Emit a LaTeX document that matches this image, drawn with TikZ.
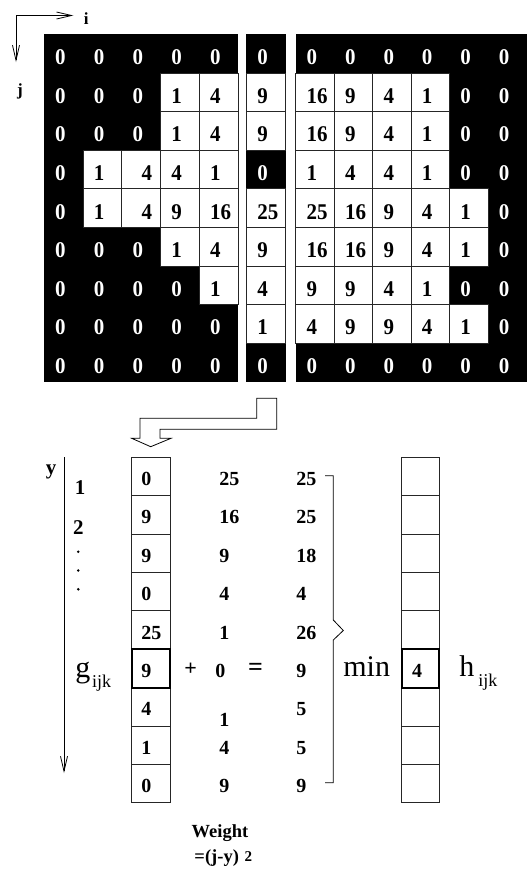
\documentclass[tikz,border=0pt]{standalone}
\usepackage{fontspec}
\setmainfont{Liberation Serif}
\usetikzlibrary{arrows.meta}
\newcommand{\tallnum}[1]{\scalebox{1}[1.07]{#1}}
\begin{document}
\begin{tikzpicture}[x=1pt,y=-1pt,
  line width=0.8pt,
  wcell/.style={draw=black!85, line width=0.8pt, fill=white},
  cellw/.style={wcell}, cellx/.style={wcell}, cellb/.style={},
  numw/.style={anchor=west, inner sep=0pt, font=\fontsize{21}{21}\selectfont\bfseries, text=black},
  numx/.style={numw, xshift=9pt},
  numb/.style={numw, text=white},
  bnum/.style={anchor=west, inner sep=0pt, font=\fontsize{20}{20}\selectfont\bfseries},
  bsym/.style={inner sep=0pt, font=\fontsize{22}{22}\selectfont\bfseries},
  lbl/.style={inner sep=0pt, font=\fontsize{21}{21}\selectfont\bfseries},
  axlbl/.style={inner sep=0pt, font=\fontsize{17}{17}\selectfont\bfseries},
  big/.style={inner sep=0pt, font=\fontsize{30}{30}\selectfont},
  sub/.style={inner sep=0pt, font=\fontsize{18}{18}\selectfont},
  wt/.style={inner sep=0pt, font=\fontsize{18.5}{18.5}\selectfont\bfseries},
  barb/.style={-{Straight Barb[length=15pt,width=7pt]}},
  thick cell/.style={draw=black, line width=2pt}
]
\useasboundingbox (0,0) rectangle (527,873);

% ---------- axes i, j ----------
\coordinate (o) at (16,15.5);
\coordinate (ie) at (73.3,15.5);
\coordinate (je) at (16,62);
\draw[barb] (o) -- (ie);
\draw[barb] (o) -- (je);
\node[axlbl] (ilbl) at (86.3,19) {i};
\node[axlbl] (jlbl) at (20,91.7) {j};

% ---------- black backgrounds ----------
\fill[black] (44.3,34.3) rectangle (238,381.7);
\fill[black] (246,34.3) rectangle (285.5,381.7);
\fill[black] (295.7,34.3) rectangle (527,381.7);

% ---------- left grid ----------
\def\rowsL{{b/0,b/0,b/0,b/0,b/0},{b/0,b/0,b/0,w/1,w/4},{b/0,b/0,b/0,w/1,w/4},{b/0,w/1,x/4,w/4,w/1},{b/0,w/1,x/4,w/9,w/16},{b/0,b/0,b/0,w/1,w/4},{b/0,b/0,b/0,b/0,w/1},{b/0,b/0,b/0,b/0,b/0},{b/0,b/0,b/0,b/0,b/0}}
\foreach \row [count=\r from 0] in \rowsL {
  \foreach \t/\v [count=\c from 0] in \row {
    \pgfmathsetmacro\xl{44.3+38.74*\c}
    \pgfmathsetmacro\yt{34.3+38.6*\r}
    \path[cell\t] (\xl,\yt) rectangle ++(38.74,38.6);
    \node[num\t] (L-\r-\c) at (\xl+10.5,\yt+23) {\tallnum{\v}};
  }
}

% ---------- middle column ----------
\foreach \t/\v [count=\r from 0] in {b/0,w/9,w/9,b/0,w/25,w/9,w/4,w/1,b/0} {
  \pgfmathsetmacro\yt{34.3+38.6*\r}
  \path[cell\t] (246,\yt) rectangle ++(39.5,38.6);
  \node[num\t] (M-\r) at (246+11,\yt+23) {\tallnum{\v}};
}

% ---------- right grid ----------
\def\rowsR{{b/0,b/0,b/0,b/0,b/0,b/0},{w/16,w/9,w/4,w/1,b/0,b/0},{w/16,w/9,w/4,w/1,b/0,b/0},{w/1,w/4,w/4,w/1,b/0,b/0},{w/25,w/16,w/9,w/4,w/1,b/0},{w/16,w/16,w/9,w/4,w/1,b/0},{w/9,w/9,w/4,w/1,b/0,b/0},{w/4,w/9,w/9,w/4,w/1,b/0},{b/0,b/0,b/0,b/0,b/0,b/0}}
\foreach \row [count=\r from 0] in \rowsR {
  \foreach \t/\v [count=\c from 0] in \row {
    \pgfmathsetmacro\xl{295.7+38.45*\c}
    \pgfmathsetmacro\yt{34.3+38.6*\r}
    \path[cell\t] (\xl,\yt) rectangle ++(38.45,38.6);
    \node[num\t] (R-\r-\c) at (\xl+10.5,\yt+23) {\tallnum{\v}};
  }
}

% ---------- hollow bent arrow ----------
\draw[fill=white, line width=0.8pt, line join=miter]
  (256.7,398.3) -- (276.7,398.3) -- (276.7,429.3) -- (160,429.3) -- (160,438.3)
  -- (171,438.3) -- (150.7,446.7) -- (131.7,438.3) -- (140,438.3) -- (140,418.3)
  -- (256.7,418.3) -- cycle;

% ---------- y axis ----------
\coordinate (ys) at (64,457.3);
\coordinate (ye) at (64,773);
\draw[barb] (ys) -- (ye);
\node[lbl, anchor=base] (ylbl) at (51,474.7) {y};
\node[lbl] (one) at (80,488) {1};
\node[lbl] (two) at (78.3,527.5) {2};
\foreach \yy in {551.7,570.5,589.3} \fill (78.3,\yy) circle (1.4);
\node[big, anchor=base west] (g) at (75,677) {g};
\node[sub, anchor=base west] (gsub) at (91.7,687) {ijk};

% ---------- g column ----------
\foreach \v [count=\r from 0] in {0,9,9,0,25,9,4,1,0} {
  \pgfmathsetmacro\yt{457.3+38.37*\r}
  \draw[wcell] (131.7,\yt) rectangle ++(38.3,38.37);
  \node[bnum] (G-\r) at (141,\yt+21.7) {\v};
}
\draw[thick cell] (131.7,457.3+38.37*5) rectangle ++(38.3,38.37);

% ---------- weights ----------
\foreach \v/\dx/\dy [count=\r from 0] in {25/0/0,16/0/0,9/0/0,4/0/0,1/0/0,0/-4/0,1/0/11,4/0/0,9/0/0} {
  \pgfmathsetmacro\yt{457.3+38.37*\r}
  \node[bnum] (W-\r) at (219+\dx,\yt+21.7+\dy) {\v};
}
\node[bsym] (plus) at (190.7,669) {+};
\node[bsym, font=\fontsize{26}{26}\selectfont\bfseries] (eq) at (255.5,669) {=};

% ---------- sums ----------
\foreach \v [count=\r from 0] in {25,25,18,4,26,9,5,5,9} {
  \pgfmathsetmacro\yt{457.3+38.37*\r}
  \node[bnum] (S-\r) at (296,\yt+21.7) {\v};
}

% ---------- brace ----------
\draw (325,475.7) -- (333.3,475.7) -- (333.3,620) -- (343.3,630.5) -- (333.3,640)
  -- (333.3,782.7) -- (325,782.7);
\node[big, anchor=base] (min) at (366.7,676.7) {min};

% ---------- h column ----------
\foreach \r in {0,...,8} {
  \pgfmathsetmacro\yt{457.3+38.37*\r}
  \draw[wcell] (401.7,\yt) rectangle ++(37.6,38.37);
}
\draw[thick cell] (401.7,457.3+38.37*5) rectangle ++(37.6,38.37);
\node[bnum] (H-5) at (411.7,457.3+38.37*5+21.7) {4};
\node[big, anchor=base west] (h) at (459,676.7) {h};
\node[sub, anchor=base west] (hsub) at (478,686.7) {ijk};

% ---------- weight formula ----------
\node[wt] (weight) at (220,833) {Weight};
\node[wt] (formula) at (216.7,858) {=(j-y)};
\node[inner sep=0pt, font=\fontsize{15}{15}\selectfont\bfseries] (two2) at (248.3,857) {2};
\end{tikzpicture}
\end{document}
